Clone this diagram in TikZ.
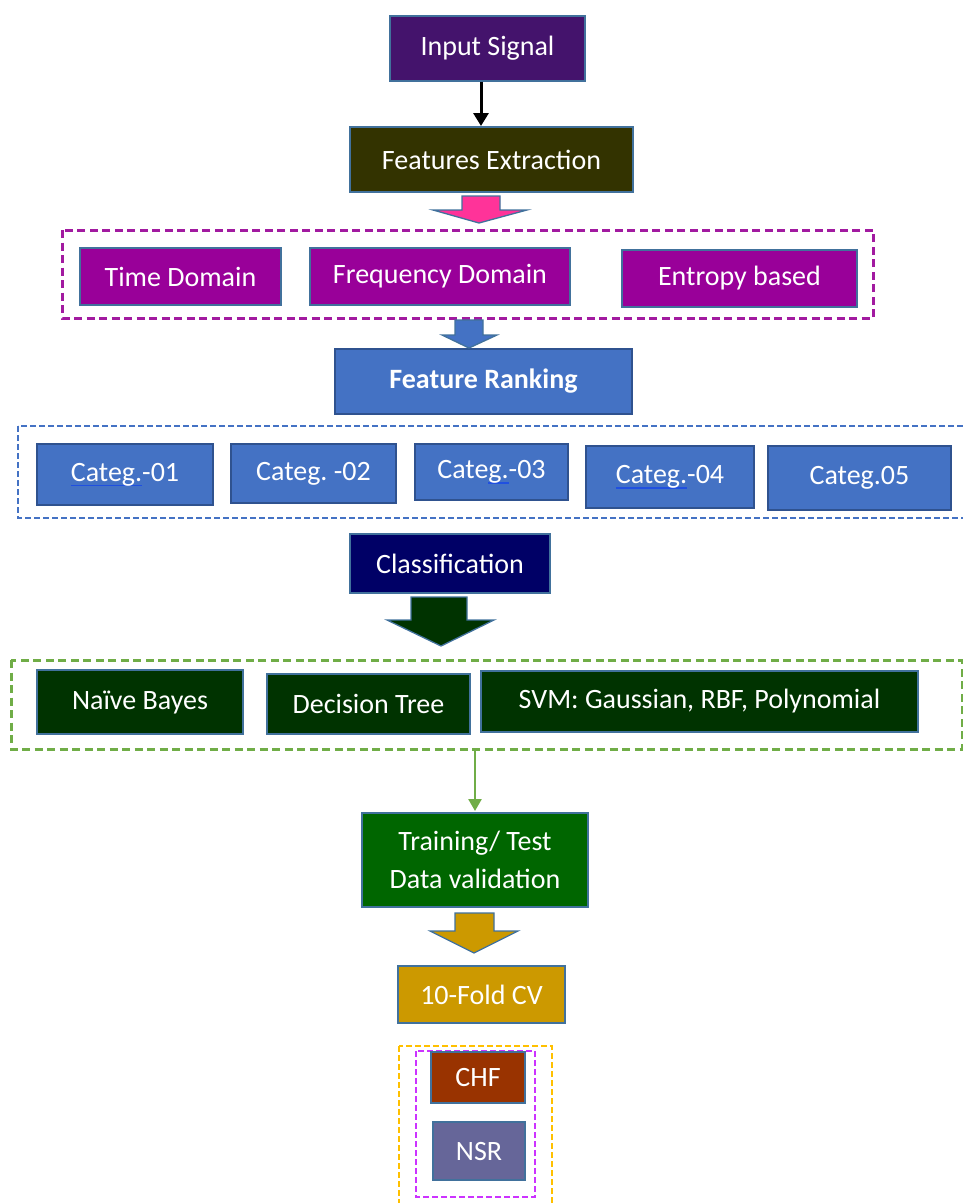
\documentclass[tikz,border=0pt]{standalone}
\usepackage{fontspec}
\usetikzlibrary{arrows.meta}
\setmainfont{Carlito}
\frenchspacing
\definecolor{bord}{HTML}{41719C}
\definecolor{cinput}{HTML}{44136C}
\definecolor{colive}{HTML}{333300}
\definecolor{cpink}{HTML}{FF3399}
\definecolor{cmag}{HTML}{990099}
\definecolor{cmagdash}{HTML}{A21AA0}
\definecolor{cblue}{HTML}{4472C4}
\definecolor{cbluebord}{HTML}{2F528F}
\definecolor{cnavy}{HTML}{000066}
\definecolor{cdkgreen}{HTML}{003300}
\definecolor{cgreendash}{HTML}{70AD47}
\definecolor{ctrain}{HTML}{006600}
\definecolor{cgold}{HTML}{CC9900}
\definecolor{corange}{HTML}{FFC000}
\definecolor{cviolet}{HTML}{CC33FF}
\definecolor{cchf}{HTML}{993300}
\definecolor{cnsr}{HTML}{666699}
\definecolor{ulblue}{HTML}{2050E0}
\newcommand\ulword[1]{\setbox0\hbox{#1}\rlap{\color{ulblue}\rule[-5pt]{\wd0}{1.4pt}}\box0}
\begin{document}
\begin{tikzpicture}[x=1pt,y=-1pt,
  box/.style={draw=bord,line width=1.3pt,text=white,font=\fontsize{28}{32}\selectfont\frenchspacing,inner sep=0pt,align=center},
  blk/.style={draw=bord,line width=1.3pt},
  grp/.style={line width=3pt,dash pattern=on 8pt off 4.5pt},
  grpthin/.style={line width=1.5pt,dash pattern=on 6pt off 3pt}]
\useasboundingbox (0,0) rectangle (962,1203);

% group frames
\draw[grp,cmagdash] (62,230) rectangle (873,318);
\draw[grpthin,cblue] (18,426) rectangle (970,518);
\draw[grp,cgreendash] (11,660) rectangle (962,749);
\draw[grpthin,corange] (399,1046) rectangle (552,1210);
\draw[grpthin,cviolet] (416,1051) rectangle (535,1197);

% nodes
\node[box,fill=cinput,minimum width=195pt,minimum height=65pt] (inp) at (487.5,48.5) {Input Signal};
\node[box,fill=colive,minimum width=283pt,minimum height=65pt] (fe) at (491.5,159.5) {Features Extraction};

\node[box,fill=cmag,minimum width=201pt,minimum height=57pt] (td) at (180.5,276.5) {Time Domain};
\node[box,fill=cmag,minimum width=260pt,minimum height=57pt] (fd) at (440,276.5) {Frequency Domain};
\node[box,fill=cmag,minimum width=235pt,minimum height=57pt] (eb) at (739.5,278.5) {Entropy based};

\node[box,fill=cblue,draw=cbluebord,minimum width=297pt,minimum height=65pt] (fr) at (483.5,381.5) {\textbf{Feature Ranking}};

\node[box,fill=cblue,draw=cbluebord,minimum width=176pt,minimum height=61pt] (c1) at (125,474.5) {\ulword{Categ.}-01};
\node[box,fill=cblue,draw=cbluebord,minimum width=165pt,minimum height=59pt] (c2) at (313.5,473.5) {Categ. -02};
\node[box,fill=cblue,draw=cbluebord,minimum width=153pt,minimum height=56pt] (c3) at (491.5,472) {Cate\ulword{g.}-03};
\node[box,fill=cblue,draw=cbluebord,minimum width=168pt,minimum height=62pt] (c4) at (670,477) {\ulword{Categ.}-04};
\node[box,fill=cblue,draw=cbluebord,minimum width=183pt,minimum height=64pt] (c5) at (859.5,478) {Categ.05};

\node[box,fill=cnavy,minimum width=200pt,minimum height=59pt] (cl) at (450,563.5) {Classification};

\node[box,fill=cdkgreen,minimum width=206pt,minimum height=64pt] (nb) at (140,702) {Naïve Bayes};
\node[box,fill=cdkgreen,minimum width=203pt,minimum height=60pt] (dt) at (368.5,704) {Decision Tree};
\node[box,fill=cdkgreen,minimum width=437pt,minimum height=61pt] (svm) at (699.5,701.5) {SVM: Gaussian, RBF, Polynomial};

\coordinate (gbot) at (475,750);
\node[box,fill=ctrain,minimum width=226pt,minimum height=94pt] (tr) at (475,860) {Training/ Test\\[6pt]Data validation};

\node[box,fill=cgold,minimum width=167pt,minimum height=57pt] (cv) at (481.5,994.5) {10-Fold CV};

\node[box,fill=cchf,minimum width=94pt,minimum height=51pt] (chf) at (478,1077.5) {CHF};
\node[box,fill=cnsr,minimum width=92pt,minimum height=58pt] (nsr) at (479,1151) {NSR};

% connectors
\draw[black,line width=3pt,-{Triangle[length=13pt,width=15pt]}] (inp.south -| 481,0) -- (481,126);
\draw[cgreendash,line width=2.6pt,-{Triangle[length=12pt,width=13pt]}] (gbot) -- (475,811);

% block arrows
\draw[blk,fill=cpink] (462,196) -- (500,196) -- (500,210) -- (527,210) -- (479,223) -- (433,210) -- (462,210) -- cycle;
\draw[blk,fill=cblue] (455,320) -- (483,320) -- (483,335) -- (497,335) -- (469,348) -- (442,335) -- (455,335) -- cycle;
\draw[blk,fill=cdkgreen] (411,597) -- (467,597) -- (467,620) -- (494,620) -- (441,646) -- (387,620) -- (411,620) -- cycle;
\draw[blk,fill=cgold] (455,913) -- (494,913) -- (494,931) -- (518,931) -- (474,953) -- (430,931) -- (455,931) -- cycle;
\end{tikzpicture}
\end{document}
